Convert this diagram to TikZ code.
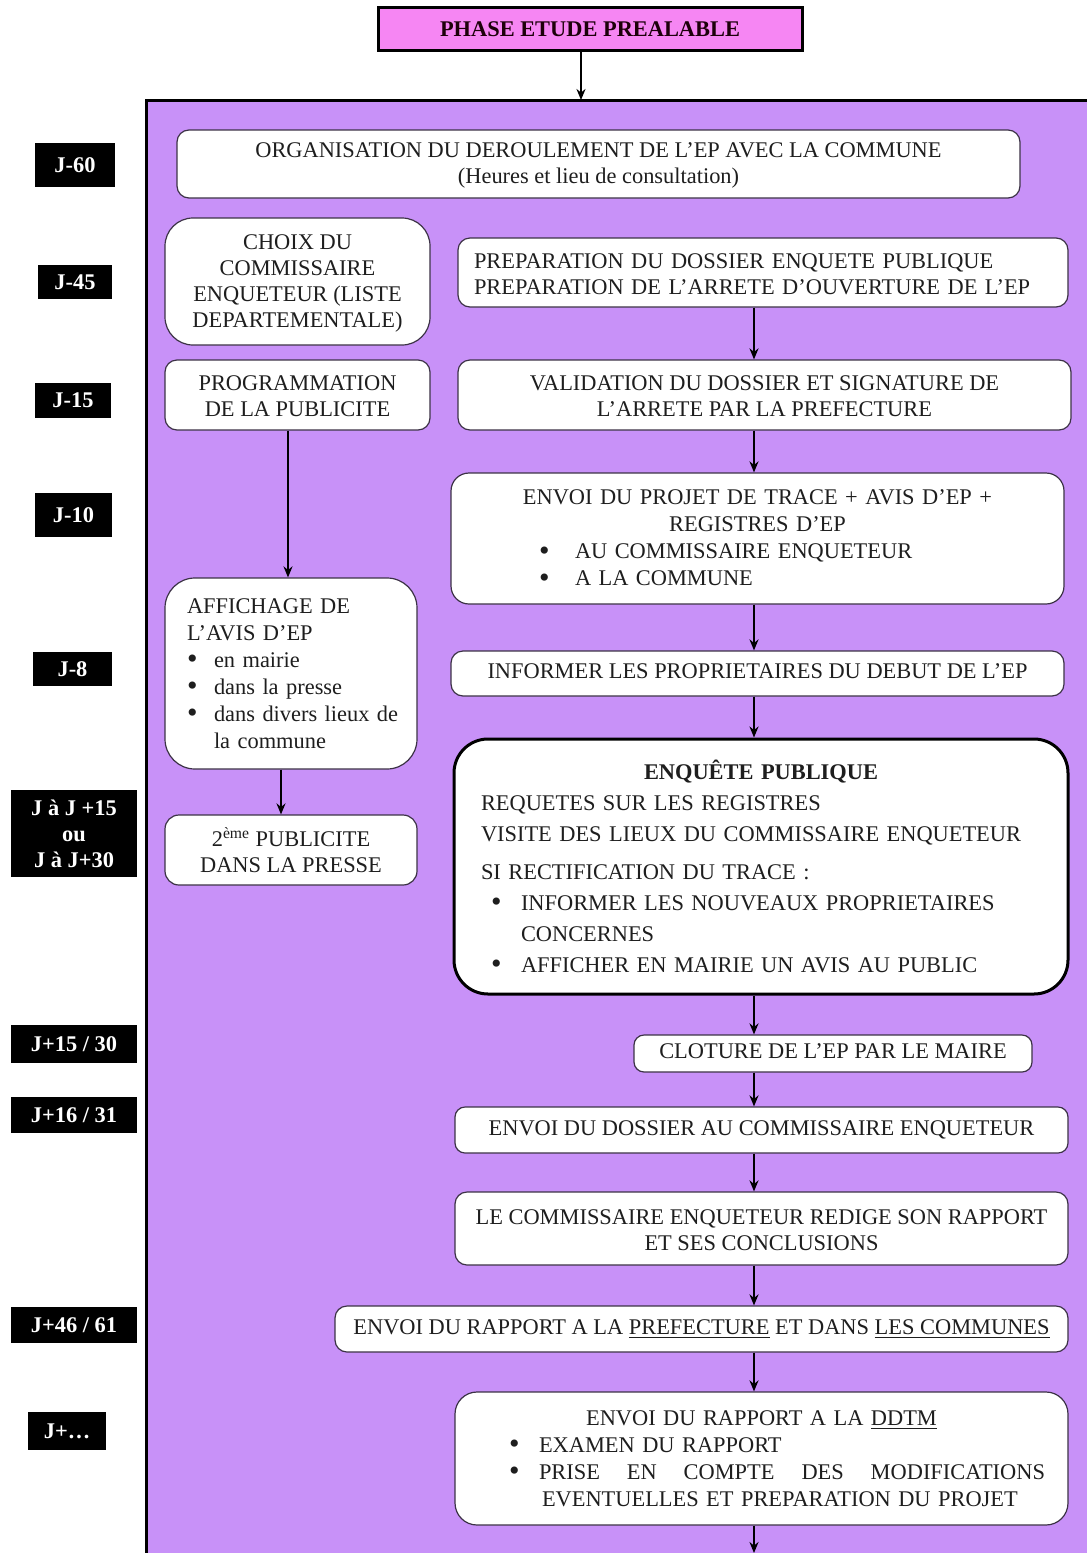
\documentclass[tikz,border=0pt]{standalone}
\usepackage{fontspec}
\setmainfont{Liberation Serif}
\usetikzlibrary{arrows.meta}

\definecolor{bgpurple}{RGB}{200,145,248}
\definecolor{hdrpink}{RGB}{246,134,243}
\definecolor{boxedge}{RGB}{60,50,70}
\definecolor{ink}{RGB}{30,30,30}

% a slightly heavier list bullet
\newcommand{\dotmark}{{\fontsize{15}{13}\selectfont\raisebox{-0.6pt}{\textbullet}}}
% bulleted line: indent, bullet box width, text
\newcommand{\bulline}[3]{\makebox[\linewidth][l]{\hspace*{#1}\makebox[#2][l]{\dotmark}#3}}

\begin{document}
\begin{tikzpicture}[x=0.5pt,y=-0.5pt,
  every node/.style={font=\fontsize{11.2}{13}\selectfont},
  stepbox/.style={draw=boxedge, fill=white, line width=0.6pt, rounded corners=5pt,
    inner sep=0pt, align=center, text=ink},
  widebox/.style={stepbox, font=\fontsize{11.2}{13.5}\selectfont},
  daylabel/.style={fill=black, text=white, inner sep=0pt, align=center,
    font=\fontsize{11.2}{13}\selectfont\bfseries},
  flow/.style={line width=1pt, draw=black, -{Stealth[length=5.5pt,width=4.5pt]}}
]
\useasboundingbox (0,0) rectangle (1087,1553);
\fill[white] (0,0) rectangle (1087,1553);

% purple frame of the procedure
\fill[bgpurple] (146,100) rectangle (1095,1565);
\draw[line width=1.5pt] (146,1565) -- (146,100) -- (1095,100);

% header
\node[draw=black, line width=1.5pt, fill=hdrpink, minimum width=212pt, minimum height=21.5pt,
  inner sep=0pt, text=black!85!purple, font=\fontsize{11.2}{13}\selectfont\bfseries]
  (hdr) at (590,29) {PHASE ETUDE PREALABLE};

% helper coordinates for connector columns
\coordinate (mainin) at (581,100);
\coordinate (spine) at (754,0);
\coordinate (leftA) at (288,0);
\coordinate (leftB) at (281,0);
\coordinate (exit) at (754,1553);

% day labels
\node[daylabel, minimum width=40pt, minimum height=22pt] (lab60) at (75,165) {J-60};
\node[daylabel, minimum width=37pt, minimum height=17pt] (lab45) at (75,282) {J-45};
\node[daylabel, minimum width=38pt, minimum height=17.5pt] (lab15) at (73,400.5) {J-15};
\node[daylabel, minimum width=38.5pt, minimum height=22pt] (lab10) at (73.5,515) {J-10};
\node[daylabel, minimum width=39.5pt, minimum height=17pt] (lab8) at (72.5,669) {J-8};
\node[daylabel, minimum width=63pt, minimum height=43.5pt] (labJJ) at (74,833.5) {J à J +15\\ou\\J à J+30};
\node[daylabel, minimum width=63pt, minimum height=19pt] (labA) at (74,1044) {J+15 / 30};
\node[daylabel, minimum width=63pt, minimum height=18pt] (labB) at (74,1115) {J+16 / 31};
\node[daylabel, minimum width=63pt, minimum height=18pt] (labC) at (74,1325) {J+46 / 61};
\node[daylabel, minimum width=39pt, minimum height=19pt] (labD) at (67,1431) {J+\dots};

% steps
\node[stepbox, rounded corners=6pt, minimum width=421.5pt, minimum height=34pt] (org) at (598.5,164)
  {\strut ORGANISATION DU DEROULEMENT DE L’EP AVEC LA COMMUNE\\(Heures et lieu de consultation)};

\node[stepbox, rounded corners=14pt, minimum width=132.5pt, minimum height=63.5pt] (choix) at (297.5,281.5)
  {\strut CHOIX DU\\COMMISSAIRE\\ENQUETEUR (LISTE\\DEPARTEMENTALE)};

\node[stepbox, rounded corners=6pt, minimum width=305pt, minimum height=34.5pt, text width=289pt, align=left]
  (prep) at (763,272.5)
  {\strut PREPARATION DU DOSSIER ENQUETE PUBLIQUE\\PREPARATION DE L’ARRETE D’OUVERTURE DE L’EP};

\node[stepbox, rounded corners=6pt, minimum width=132.5pt, minimum height=35pt] (prog) at (297.5,395)
  {\strut PROGRAMMATION\\DE LA PUBLICITE};

\node[stepbox, rounded corners=6pt, minimum width=306.5pt, minimum height=35pt] (valid) at (764.5,395)
  {\strut VALIDATION DU DOSSIER ET SIGNATURE DE\\L’ARRETE PAR LA PREFECTURE};

\node[widebox, rounded corners=9pt, minimum width=306.5pt, minimum height=65.5pt, text width=306.5pt]
  (envoi) at (757.5,538.5)
  {ENVOI DU PROJET DE TRACE + AVIS D’EP +\\REGISTRES D’EP\\
   \bulline{44pt}{18pt}{AU COMMISSAIRE ENQUETEUR}\\
   \bulline{44pt}{18pt}{A LA COMMUNE}};

\node[widebox, rounded corners=15pt, minimum width=126pt, minimum height=95.5pt, text width=104pt, align=left]
  (affich) at (291,673.5)
  {AFFICHAGE DE\\L’AVIS D’EP\\
   \makebox[13.5pt][l]{\dotmark}en mairie\\
   \makebox[13.5pt][l]{\dotmark}dans la presse\\
   \makebox[13.5pt][l]{\dotmark}\mbox{dans divers lieux de}\\
   \hspace*{13.5pt}la commune};

\node[stepbox, rounded corners=6pt, minimum width=306.5pt, minimum height=22.5pt] (inform) at (757.5,673.5)
  {\strut INFORMER LES PROPRIETAIRES DU DEBUT DE L’EP};

\node[stepbox, draw=black, line width=1.5pt, rounded corners=17pt, minimum width=307pt, minimum height=127.5pt,
  text width=280pt, align=left, font=\fontsize{11.2}{15.5}\selectfont]
  (enq) at (761,866.5)
  {\makebox[\linewidth][c]{\bfseries ENQUÊTE PUBLIQUE}\\
   REQUETES SUR LES REGISTRES\\
   VISITE DES LIEUX DU COMMISSAIRE ENQUETEUR\\[3.5pt]
   SI RECTIFICATION DU TRACE :\\
   \hspace*{5pt}\makebox[15pt][l]{\dotmark}INFORMER LES NOUVEAUX PROPRIETAIRES\\
   \hspace*{20pt}CONCERNES\\
   \hspace*{5pt}\makebox[15pt][l]{\dotmark}AFFICHER EN MAIRIE UN AVIS AU PUBLIC};

\node[stepbox, rounded corners=7pt, minimum width=126pt, minimum height=35pt] (pub2) at (291,850)
  {\strut 2\textsuperscript{ème} PUBLICITE\\DANS LA PRESSE};

\node[stepbox, rounded corners=5pt, minimum width=199pt, minimum height=18.5pt] (clot) at (833,1053.5)
  {\strut CLOTURE DE L’EP PAR LE MAIRE};

\node[stepbox, rounded corners=5pt, minimum width=306.5pt, minimum height=23pt] (doss) at (761.5,1130)
  {\strut ENVOI DU DOSSIER AU COMMISSAIRE ENQUETEUR};

\node[stepbox, rounded corners=6pt, minimum width=306.5pt, minimum height=36.5pt] (redige) at (761.5,1228.5)
  {\strut LE COMMISSAIRE ENQUETEUR REDIGE SON RAPPORT\\ET SES CONCLUSIONS};

\node[stepbox, rounded corners=6pt, minimum width=366.5pt, minimum height=23pt] (pref) at (701.5,1329)
  {\strut ENVOI DU RAPPORT A LA \underline{PREFECTURE} ET DANS \underline{LES COMMUNES}};

\node[widebox, rounded corners=11pt, minimum width=306.5pt, minimum height=66.5pt, text width=306.5pt]
  (ddtm) at (761.5,1458.5)
  {ENVOI DU RAPPORT A LA \underline{DDTM}\\
   \bulline{27pt}{15pt}{EXAMEN DU RAPPORT}\\
   \bulline{27pt}{15pt}{\makebox[253pt][l]{PRISE\hfill EN\hfill COMPTE\hfill DES\hfill MODIFICATIONS}}\\
   \makebox[\linewidth][l]{\hspace*{43.5pt}EVENTUELLES ET PREPARATION DU PROJET}};

% connectors
\draw[flow] (hdr.south -| mainin) -- (mainin);
\draw[flow] (prep.south -| spine) -- (valid.north -| spine);
\draw[flow] (valid.south -| spine) -- (envoi.north -| spine);
\draw[flow] (envoi.south -| spine) -- (inform.north -| spine);
\draw[flow] (inform.south -| spine) -- (enq.north -| spine);
\draw[flow] (enq.south -| spine) -- (clot.north -| spine);
\draw[flow] (clot.south -| spine) -- (doss.north -| spine);
\draw[flow] (doss.south -| spine) -- (redige.north -| spine);
\draw[flow] (redige.south -| spine) -- (pref.north -| spine);
\draw[flow] (pref.south -| spine) -- (ddtm.north -| spine);
\draw[flow] (ddtm.south -| spine) -- (exit);
\draw[flow] (prog.south -| leftA) -- (affich.north -| leftA);
\draw[flow] (affich.south -| leftB) -- (pub2.north -| leftB);
\end{tikzpicture}
\end{document}
